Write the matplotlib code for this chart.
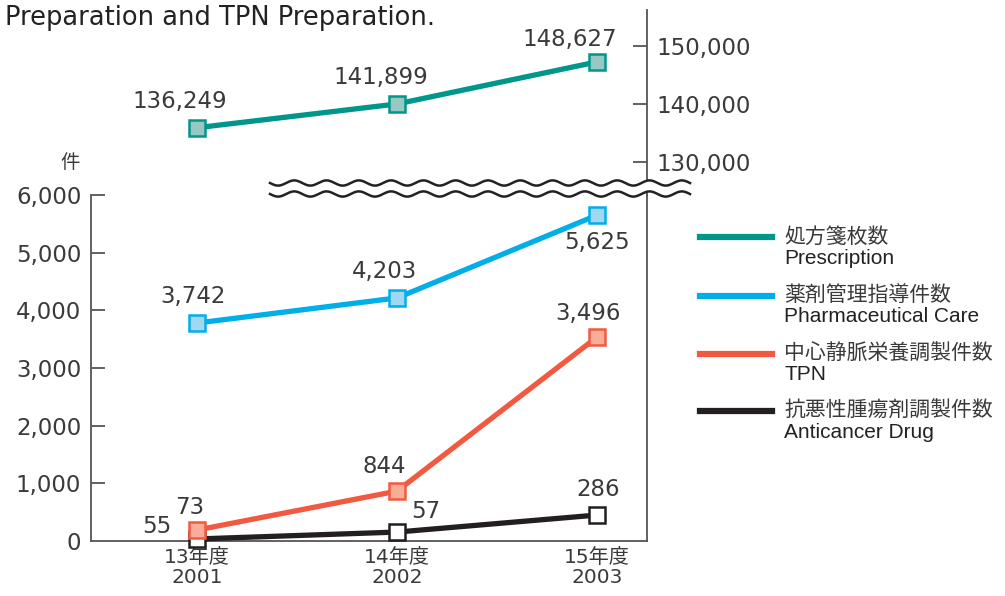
import numpy as np
import matplotlib.pyplot as plt
from matplotlib.lines import Line2D

plt.rcParams['font.family'] = ['DejaVu Sans', 'Noto Sans CJK JP']

years = ["13年度\n2001", "14年度\n2002", "15年度\n2003"]

# values as drawn in the picture (labels carry the printed numbers)
prescription = [135900, 140000, 147250]
pharma_care = [3780, 4215, 5650]
tpn = [190, 865, 3535]
anticancer = [35, 155, 450]

prescription_labels = ["136,249", "141,899", "148,627"]
pharma_labels = ["3,742", "4,203", "5,625"]
tpn_labels = ["73", "844", "3,496"]
anticancer_labels = ["55", "57", "286"]

names = [("処方箋枚数", "Prescription"),
         ("薬剤管理指導件数", "Pharmaceutical Care"),
         ("中心静脈栄養調製件数", "TPN"),
         ("抗悪性腫瘍剤調製件数", "Anticancer Drug")]

colors = ["#00968a", "#00aee8", "#f15a40", "#231f20"]
faces = ["#98c8c4", "#9fd8f0", "#f7ad98", "#ffffff"]

W, H = 1005, 596
fig = plt.figure(figsize=(W / 100, H / 100), dpi=100)

def fx(px):
    return px / W

def fy(py):
    return 1 - py / H

ax = fig.add_axes([fx(91), fy(541), fx(647) - fx(91), fy(195) - fy(541)])
ax_top = fig.add_axes([fx(91), fy(195), fx(647) - fx(91), fy(10) - fy(195)])

x = np.arange(3)
spine_col = "#555555"
txt_col = "#3a3a3a"
num_size = 16.5

for a in (ax, ax_top):
    a.set_xlim(-0.53, 2.25)
    a.patch.set_alpha(0)

# bottom panel
ax.set_ylim(0, 6000)
ax.spines['top'].set_visible(False)
for s in ('left', 'bottom', 'right'):
    ax.spines[s].set_color(spine_col)
    ax.spines[s].set_linewidth(1.3)
ax.set_yticks([0, 1000, 2000, 3000, 4000, 5000, 6000])
ax.set_yticklabels(["0", "1,000", "2,000", "3,000", "4,000", "5,000", "6,000"])
ax.tick_params(axis='y', direction='in', length=10, width=1.3, color=spine_col,
               labelsize=num_size, labelcolor=txt_col, pad=7)
ax.yaxis.get_major_ticks()[0].tick1line.set_visible(False)
ax.set_xticks(x)
ax.set_xticklabels(years, fontsize=14.5, color=txt_col, linespacing=1.1)
ax.tick_params(axis='x', length=0, pad=5)

# top panel
ax_top.set_ylim(124300, 156200)
for s in ('left', 'bottom', 'top'):
    ax_top.spines[s].set_visible(False)
ax_top.spines['right'].set_color(spine_col)
ax_top.spines['right'].set_linewidth(1.3)
ax_top.set_xticks([])
ax_top.yaxis.tick_right()
ax_top.set_yticks([130000, 140000, 150000])
ax_top.set_yticklabels(["130,000", "140,000", "150,000"])
ax_top.tick_params(axis='y', direction='in', length=10, width=1.3, color=spine_col,
                   labelsize=num_size, labelcolor=txt_col, pad=7)

line_kw = dict(lw=3.8, marker='s', ms=11, mew=1.8, clip_on=False, zorder=3)

ax_top.plot(x, prescription, color=colors[0], mfc=faces[0], mec=colors[0], **line_kw)
ax.plot(x, pharma_care, color=colors[1], mfc=faces[1], mec=colors[1], **line_kw)
ax.plot(x, anticancer, color=colors[3], mfc=faces[3], mec=colors[3], **line_kw)
ax.plot(x, tpn, color=colors[2], mfc=faces[2], mec=colors[2], **line_kw)

lab_kw = dict(textcoords='offset pixels', ha='center', va='center',
              fontsize=num_size, color=txt_col)

offs = [(-17, 26), (-16, 26), (-27, 22)]
for i in range(3):
    ax_top.annotate(prescription_labels[i], (x[i], prescription[i]), xytext=offs[i], **lab_kw)
offs = [(-4, 27), (-13, 26), (0, -27)]
for i in range(3):
    ax.annotate(pharma_labels[i], (x[i], pharma_care[i]), xytext=offs[i], **lab_kw)
offs = [(-7, 23), (-13, 25), (-9, 24)]
for i in range(3):
    ax.annotate(tpn_labels[i], (x[i], tpn[i]), xytext=offs[i], **lab_kw)
offs = [(-40, 12), (29, 21), (1, 26)]
for i in range(3):
    ax.annotate(anticancer_labels[i], (x[i], anticancer[i]), xytext=offs[i], **lab_kw)

# unit label and title
fig.text(fx(70), fy(163), "件", ha='center', va='center', fontsize=14, color=txt_col)
fig.text(fx(5), fy(18), "Preparation and TPN Preparation.", ha='left', va='center',
         fontsize=18.5, color="#222222")

# break marks
wx = np.linspace(270, 690, 600)
wave = 2.6 * np.sin((wx - 270) / 32.3 * 2 * np.pi)
y1 = 183 + wave
y2 = 194 + wave
fig.patches.append(plt.Polygon(
    np.column_stack([fx(np.r_[wx, wx[::-1]]), fy(np.r_[y1, y2[::-1]])]),
    closed=True, facecolor='white', edgecolor='none', transform=fig.transFigure, zorder=5))
for yy in (y1, y2):
    fig.add_artist(Line2D(fx(wx), fy(yy), color="#222222", lw=1.8, zorder=6))

# legend
leg_y = [237, 296, 354, 411]
for (jp, en), c, ly in zip(names, colors, leg_y):
    fig.add_artist(Line2D([fx(700), fx(772)], [fy(ly), fy(ly)], color=c, lw=4.5))
    fig.text(fx(784), fy(ly), jp, ha='left', va='center', fontsize=15, color=txt_col,
             family='Noto Sans CJK JP')
    fig.text(fx(784), fy(ly + 21), en, ha='left', va='center', fontsize=15, color="#222222",
             family='Liberation Sans')

fig.savefig("out.png", dpi=100)
